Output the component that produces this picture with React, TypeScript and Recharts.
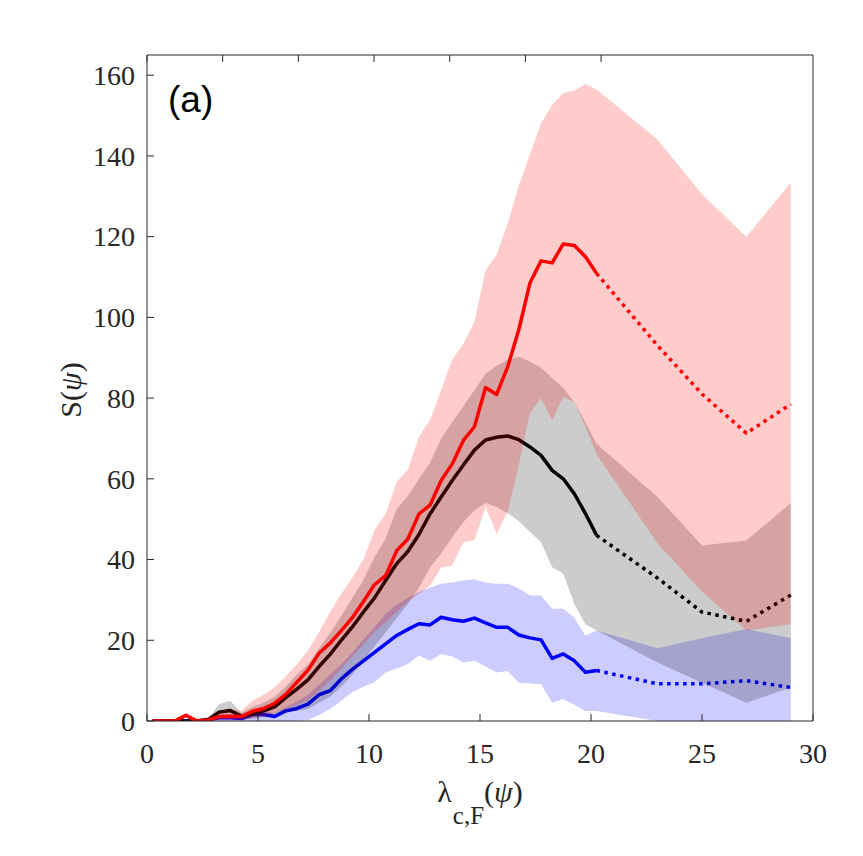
import { ComposedChart, Area, Line, XAxis, YAxis } from 'recharts'

// lambda_c,F grid: 0.5-wide bins up to 20.25, coarse bins after
const LAMBDA = [
  0.25, 0.75, 1.25, 1.75, 2.25, 2.75, 3.25, 3.75, 4.25, 4.75,
  5.25, 5.75, 6.25, 6.75, 7.25, 7.75, 8.25, 8.75, 9.25, 9.75,
  10.25, 10.75, 11.25, 11.75, 12.25, 12.75, 13.25, 13.75, 14.25, 14.75,
  15.25, 15.75, 16.25, 16.75, 17.25, 17.75, 18.25, 18.75, 19.25, 19.75,
  20.25, 23, 25, 27, 29,
]
// index of the last point of the solid part; dotted from here on
const LAST_SOLID = 40

const RED_MEAN = [
  0, 0, 0, 1.4, 0, 0.2, 1.1, 1.2, 1.1, 2.4,
  3.1, 4.4, 6.6, 9.6, 12.6, 16.8, 19.3, 22.4, 25.6, 29.6,
  33.8, 36, 42.2, 45.1, 51.3, 53.5, 59.6, 63.7, 69.5, 72.9,
  82.6, 80.9, 87.8, 97, 108.5, 114, 113.5, 118.2, 117.8, 115,
  110.9, 93, 81, 71.3, 78.5,
]
const RED_HIGH = [
  0, 0, 0.5, 2, 0.5, 1, 2.5, 3, 2.5, 5,
  6.5, 8.3, 11, 14, 17.5, 22, 27, 31.5, 35.5, 40,
  47.3, 51.4, 59.2, 62.3, 70.5, 74.6, 82, 89.6, 93.4, 99,
  111.7, 115.5, 123.3, 132.7, 140.4, 148.1, 152.6, 155.6, 156.2, 157.8,
  156.5, 144, 130.5, 120, 133.4,
]
const RED_LOW = [
  0, 0, 0, 0.8, 0, 0, 0.3, 0.3, 0.3, 0.8,
  1.2, 2, 3, 4, 5, 7.5, 10, 13, 16, 19,
  22, 24.5, 27, 29.5, 31.5, 33.5, 38, 38.5, 44.3, 44.8,
  53, 46.4, 51.8, 63.5, 76.2, 80, 74.5, 80.3, 79, 73,
  66, 44, 32, 22.4, 24,
]

const BLACK_MEAN = [
  0, 0, 0, 0, 0, 0.3, 2.2, 2.6, 1.2, 1.7,
  2.5, 3.5, 5.8, 7.9, 10.2, 13.5, 16.5, 20, 23.3, 27,
  30.5, 34.8, 39, 42, 46.2, 51.3, 55.5, 59.6, 63.4, 67.1,
  69.6, 70.3, 70.6, 69.7, 67.9, 65.8, 62.1, 60, 56.3, 51.4,
  46, 35.4, 27, 24.7, 31.2,
]
const BLACK_HIGH = [
  0, 0, 0, 0, 0, 0.5, 4.2, 5, 2, 3.5,
  4.5, 6, 8.5, 11.5, 14, 18, 21.8, 26, 30.5, 35,
  40.6, 45.2, 52.5, 55.7, 60, 64, 70, 74, 78, 82,
  86, 88, 89.5, 90.3, 89, 87.5, 85, 82.5, 79, 74,
  68.7, 55.5, 43.5, 44.7, 54,
]
const BLACK_LOW = [
  0, 0, 0, 0, 0, 0, 0.5, 1, 0.3, 0.5,
  1, 1.5, 2, 2.5, 3, 4.5, 6, 8.5, 11.5, 15,
  18.5, 22, 25.5, 29, 33, 38, 41.5, 45.6, 49.3, 52.2,
  54, 53, 51.5, 49.5, 46.8, 44.3, 38.1, 36.5, 29, 24,
  22.4, 14.5, 9.5, 4.5, 8.3,
]

const BLUE_MEAN = [
  0, 0, 0, 0, 0, 0.3, 0.8, 0.8, 0.6, 1.6,
  1.6, 1.1, 2.5, 3.1, 4.2, 6.5, 7.5, 10.4, 12.8, 14.9,
  17, 19.1, 21.2, 22.7, 24.1, 23.8, 25.7, 25.1, 24.7, 25.5,
  24.3, 23.2, 23.2, 21.3, 20.6, 20.1, 15.5, 16.6, 14.9, 12.1,
  12.5, 9.2, 9.2, 10, 8.3,
]
const BLUE_HIGH = [
  0, 0, 0, 0, 0, 0.5, 1.2, 1.5, 1.2, 2.5,
  2.5, 2, 3.5, 4.8, 6.5, 9, 11.5, 14, 17, 20.2,
  23.3, 26.5, 28.8, 30.5, 32, 33, 34, 34.3, 34.8, 35.1,
  34.3, 34, 34, 32.8, 31.1, 31.1, 27.8, 27.8, 25.6, 21.1,
  22.4, 18, 20.5, 22.8, 20.5,
]
const BLUE_LOW = [
  0, 0, 0, 0, 0, 0, 0, 0, 0, 0,
  0, 0, 0, 0, 0.2, 1.5, 3, 5, 7.2, 8.5,
  9.6, 12, 13, 14.1, 16.2, 14.9, 16.6, 16, 14.5, 14.9,
  13.5, 12, 12.4, 9.5, 9.3, 9.1, 4.5, 5.4, 4, 2.5,
  2.5, 0, 0, 0, 0,
]

const X_TICKS = [0, 5, 10, 15, 20, 25, 30]
const Y_TICKS = [0, 20, 40, 60, 80, 100, 120, 140, 160]

const AXIS_COLOR = '#262626'
const TICK_LEN = 7
const SERIF = '"Liberation Serif", "Times New Roman", serif'
const SANS = '"Liberation Sans", Arial, sans-serif'

const solid = (arr: number[], i: number) => (i <= LAST_SOLID ? arr[i] : null)
const tail = (arr: number[], i: number) => (i >= LAST_SOLID ? arr[i] : null)

const data = LAMBDA.map((x, i) => ({
  x,
  red: solid(RED_MEAN, i),
  redTail: tail(RED_MEAN, i),
  redBand: [RED_LOW[i], RED_HIGH[i]],
  black: solid(BLACK_MEAN, i),
  blackTail: tail(BLACK_MEAN, i),
  blackBand: [BLACK_LOW[i], BLACK_HIGH[i]],
  blue: solid(BLUE_MEAN, i),
  blueTail: tail(BLUE_MEAN, i),
  blueBand: [BLUE_LOW[i], BLUE_HIGH[i]],
}))

const serifStyle = { fontFamily: SERIF, fontSize: 28 }

// tickSize/tickMargin are 0, so x/y handed to the ticks sit on the axis line
function BottomTick({ x, y, payload }: any) {
  return (
    <g>
      <line x1={x} x2={x} y1={y} y2={y - TICK_LEN} stroke={AXIS_COLOR} />
      <text x={x} y={y + 42} textAnchor="middle" fill={AXIS_COLOR} style={serifStyle}>{payload.value}</text>
    </g>
  )
}

function LeftTick({ x, y, payload }: any) {
  return (
    <g>
      <line x1={x} x2={x + TICK_LEN} y1={y} y2={y} stroke={AXIS_COLOR} />
      <text x={x - 12} y={y} dy="0.35em" textAnchor="end" fill={AXIS_COLOR} style={serifStyle}>{payload.value}</text>
    </g>
  )
}

function TopTick({ x, y }: any) {
  return <line x1={x} x2={x} y1={y} y2={y + TICK_LEN} stroke={AXIS_COLOR} />
}

function RightTick({ x, y }: any) {
  return <line x1={x} x2={x - TICK_LEN} y1={y} y2={y} stroke={AXIS_COLOR} />
}

const lineProps = {
  type: 'linear' as const,
  strokeWidth: 3.5,
  strokeLinejoin: 'round' as const,
  dot: false,
  activeDot: false,
  isAnimationActive: false,
}
const dotted = { strokeDasharray: '3.5 4.5' }

export default function App() {
  return (
    <div style={{ position: 'absolute', left: 0, top: 0, width: 863, height: 856, background: '#fff' }}>
      <ComposedChart width={863} height={856} data={data} margin={{ top: 54, right: 49, bottom: 85, left: 87 }}>
        <XAxis dataKey="x" type="number" domain={[0, 30]} ticks={X_TICKS} interval={0} height={50}
          allowDataOverflow tickSize={0} tickMargin={0} tickLine={false} stroke={AXIS_COLOR} tick={BottomTick} />
        <XAxis xAxisId="top" orientation="top" type="number" domain={[0, 30]} ticks={X_TICKS} interval={0} height={1}
          tickSize={0} tickMargin={0} tickLine={false} stroke={AXIS_COLOR} tick={TopTick} />
        <YAxis type="number" domain={[0, 165]} ticks={Y_TICKS} interval={0} width={60}
          allowDataOverflow tickSize={0} tickMargin={0} tickLine={false} stroke={AXIS_COLOR} tick={LeftTick} />
        <YAxis yAxisId="right" orientation="right" type="number" domain={[0, 165]} ticks={Y_TICKS} interval={0} width={1}
          tickSize={0} tickMargin={0} tickLine={false} stroke={AXIS_COLOR} tick={RightTick} />

        <Area type="linear" dataKey="blueBand" stroke="none" fill="#0000ff" fillOpacity={0.2}
          dot={false} activeDot={false} isAnimationActive={false} zIndex={101} />
        <Line dataKey="blue" stroke="#0000ff" {...lineProps} zIndex={102} />
        <Line dataKey="blueTail" stroke="#0000ff" {...lineProps} {...dotted} zIndex={102} />

        <Area type="linear" dataKey="blackBand" stroke="none" fill="#000000" fillOpacity={0.2}
          dot={false} activeDot={false} isAnimationActive={false} zIndex={103} />
        <Line dataKey="black" stroke="#000000" {...lineProps} zIndex={104} />
        <Line dataKey="blackTail" stroke="#000000" {...lineProps} {...dotted} zIndex={104} />

        <Area type="linear" dataKey="redBand" stroke="none" fill="#ff0000" fillOpacity={0.2}
          dot={false} activeDot={false} isAnimationActive={false} zIndex={105} />
        <Line dataKey="red" stroke="#ff0000" {...lineProps} zIndex={106} />
        <Line dataKey="redTail" stroke="#ff0000" {...lineProps} {...dotted} zIndex={106} />
      </ComposedChart>

      <svg width={863} height={856} style={{ position: 'absolute', left: 0, top: 0, pointerEvents: 'none' }}>
        <text x={168} y={112} fill="#000" style={{ fontFamily: SANS, fontSize: 37 }}>(a)</text>
        <text transform="translate(81, 390) rotate(-90)" textAnchor="middle" fill={AXIS_COLOR}
          style={{ fontFamily: SERIF, fontSize: 30 }}>
          S(<tspan fontStyle="italic">ψ</tspan>)
        </text>
        <text x={480} y={802} textAnchor="middle" fill={AXIS_COLOR} style={{ fontFamily: SERIF, fontSize: 30 }}>
          λ<tspan style={{ fontSize: 25 }} dy={22} dx={1}>c,F</tspan><tspan dy={-22}>(</tspan><tspan fontStyle="italic">ψ</tspan>)
        </text>
      </svg>
    </div>
  )
}
